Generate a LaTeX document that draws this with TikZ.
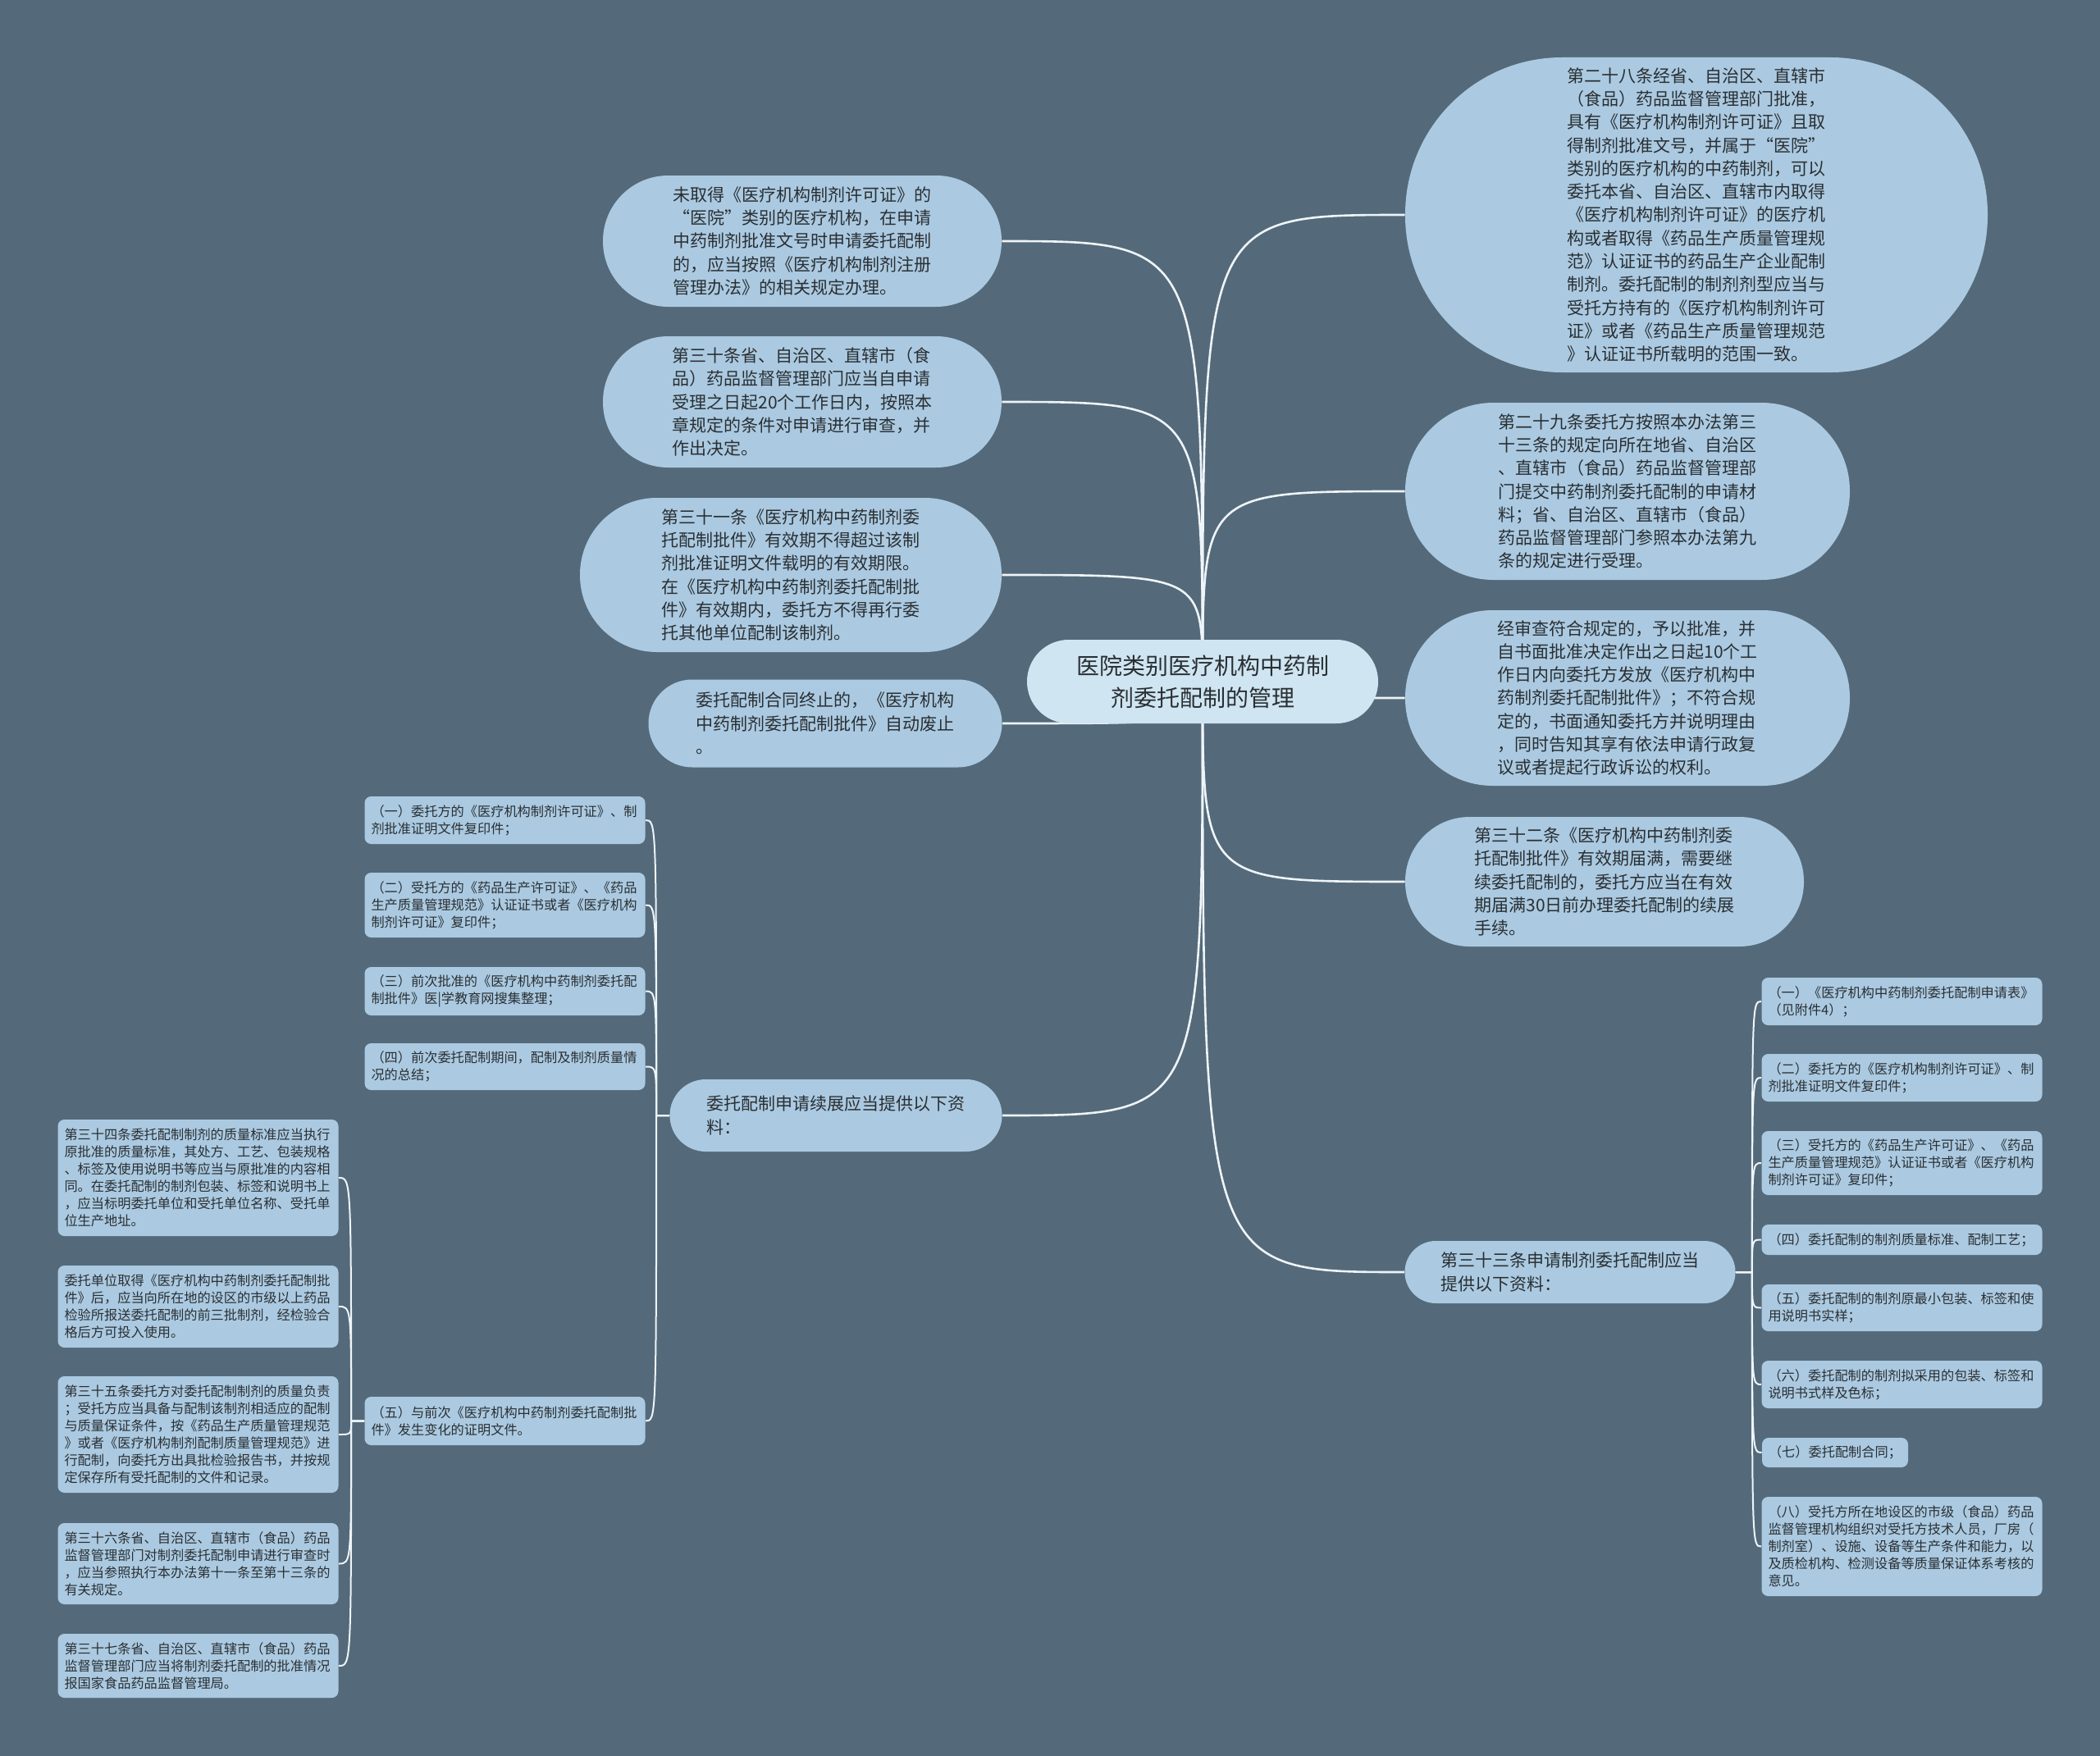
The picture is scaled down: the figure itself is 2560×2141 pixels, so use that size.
\documentclass[tikz,border=0pt]{standalone}
\usepackage{fontspec}
\setmainfont{Noto Sans CJK SC}
\definecolor{mapbg}{HTML}{546A7A}
\definecolor{mapnode}{HTML}{ABCAE1}
\definecolor{maproot}{HTML}{CFE5F1}
\definecolor{mapline}{HTML}{EEF4F8}
\definecolor{maptext}{HTML}{2A2F33}
\pgfdeclarelayer{bg}
\pgfdeclarelayer{links}
\pgfsetlayers{bg,links,main}
\tikzset{
  bubble/.style 2 args={fill=mapnode, text=maptext, align=left,
    font=\fontsize{10.5}{14.15}\selectfont,
    minimum width=#1*0.5pt, minimum height=#2*0.5pt, rounded corners=#2*0.249pt},
  leaf/.style={fill=mapnode, text=maptext, align=left, text width=163pt,
    inner xsep=4pt, inner ysep=2pt, font=\fontsize{8.1}{10.5}\selectfont,
    rounded corners=4pt, minimum height=#1*0.5pt},
  link/.style={draw=mapline, line width=1.3pt},
  sublink/.style={draw=mapline, line width=1pt},
}

\begin{document}
\begin{tikzpicture}[x=0.5pt, y=-0.5pt]
  \begin{pgfonlayer}{bg}
    \fill[mapbg] (0,0) rectangle (2560,2141);
  \end{pgfonlayer}

  % centre
  \node[bubble={428}{102}, fill=maproot, align=center, font=\fontsize{14}{19.5}\selectfont]
    (root) at (1466,831) {医院类别医疗机构中药制\\剂委托配制的管理};

  % left side
  \node[bubble={486}{160}] (L1) at (978,294)
    {未取得《医疗机构制剂许可证》的\\“医院”类别的医疗机构，在申请\\中药制剂批准文号时申请委托配制\\的，应当按照《医疗机构制剂注册\\管理办法》的相关规定办理。};
  \node[bubble={486}{160}] (L2) at (978,490)
    {第三十条省、自治区、直辖市（食\\品）药品监督管理部门应当自申请\\受理之日起20个工作日内，按照本\\章规定的条件对申请进行审查，并\\作出决定。};
  \node[bubble={514}{188}] (L3) at (964,701)
    {第三十一条《医疗机构中药制剂委\\托配制批件》有效期不得超过该制\\剂批准证明文件载明的有效期限。\\在《医疗机构中药制剂委托配制批\\件》有效期内，委托方不得再行委\\托其他单位配制该制剂。};
  \node[bubble={431}{107}] (L4) at (1006,882)
    {委托配制合同终止的，《医疗机构\\中药制剂委托配制批件》自动废止\\。};
  \node[bubble={405}{88}] (L5) at (1019,1360)
    {委托配制申请续展应当提供以下资\\料：};

  % right side
  \node[bubble={710}{384}] (R1) at (2068,262)
    {第二十八条经省、自治区、直辖市\\（食品）药品监督管理部门批准，\\具有《医疗机构制剂许可证》且取\\得制剂批准文号，并属于“医院”\\类别的医疗机构的中药制剂，可以\\委托本省、自治区、直辖市内取得\\《医疗机构制剂许可证》的医疗机\\构或者取得《药品生产质量管理规\\范》认证证书的药品生产企业配制\\制剂。委托配制的制剂剂型应当与\\受托方持有的《医疗机构制剂许可\\证》或者《药品生产质量管理规范\\》认证证书所载明的范围一致。};
  \node[bubble={542}{216}] (R2) at (1984,599)
    {第二十九条委托方按照本办法第三\\十三条的规定向所在地省、自治区\\、直辖市（食品）药品监督管理部\\门提交中药制剂委托配制的申请材\\料；省、自治区、直辖市（食品）\\药品监督管理部门参照本办法第九\\条的规定进行受理。};
  \node[bubble={542}{214}] (R3) at (1984,851)
    {经审查符合规定的，予以批准，并\\自书面批准决定作出之日起10个工\\作日内向委托方发放《医疗机构中\\药制剂委托配制批件》；不符合规\\定的，书面通知委托方并说明理由\\，同时告知其享有依法申请行政复\\议或者提起行政诉讼的权利。};
  \node[bubble={486}{158}] (R4) at (1956,1075)
    {第三十二条《医疗机构中药制剂委\\托配制批件》有效期届满，需要继\\续委托配制的，委托方应当在有效\\期届满30日前办理委托配制的续展\\手续。};
  \node[bubble={403}{76}] (R5) at (1914,1551)
    {第三十三条申请制剂委托配制应当\\提供以下资料：};

  % renewal list
  \node[leaf=58] (a1) at (615.5,1000) {（一）委托方的《医疗机构制剂许可证》、制\\剂批准证明文件复印件；};
  \node[leaf=79] (a2) at (615.5,1103.5) {（二）受托方的《药品生产许可证》、《药品\\生产质量管理规范》认证证书或者《医疗机构\\制剂许可证》复印件；};
  \node[leaf=59] (a3) at (615.5,1208.5) {（三）前次批准的《医疗机构中药制剂委托配\\制批件》医|学教育网搜集整理；};
  \node[leaf=57] (a4) at (615.5,1300.5) {（四）前次委托配制期间，配制及制剂质量情\\况的总结；};
  \node[leaf=59] (a5) at (615.5,1732.5) {（五）与前次《医疗机构中药制剂委托配制批\\件》发生变化的证明文件。};

  \node[leaf=142] (b1) at (241.5,1436) {第三十四条委托配制制剂的质量标准应当执行\\原批准的质量标准，其处方、工艺、包装规格\\、标签及使用说明书等应当与原批准的内容相\\同。在委托配制的制剂包装、标签和说明书上\\，应当标明委托单位和受托单位名称、受托单\\位生产地址。};
  \node[leaf=100] (b2) at (241.5,1593) {委托单位取得《医疗机构中药制剂委托配制批\\件》后，应当向所在地的设区的市级以上药品\\检验所报送委托配制的前三批制剂，经检验合\\格后方可投入使用。};
  \node[leaf=142] (b3) at (241.5,1749) {第三十五条委托方对委托配制制剂的质量负责\\；受托方应当具备与配制该制剂相适应的配制\\与质量保证条件，按《药品生产质量管理规范\\》或者《医疗机构制剂配制质量管理规范》进\\行配制，向委托方出具批检验报告书，并按规\\定保存所有受托配制的文件和记录。};
  \node[leaf=99] (b4) at (241.5,1906.5) {第三十六条省、自治区、直辖市（食品）药品\\监督管理部门对制剂委托配制申请进行审查时\\，应当参照执行本办法第十一条至第十三条的\\有关规定。};
  \node[leaf=78] (b5) at (241.5,2031) {第三十七条省、自治区、直辖市（食品）药品\\监督管理部门应当将制剂委托配制的批准情况\\报国家食品药品监督管理局。};

  % application list
  \node[leaf=58] (c1) at (2318.5,1221) {（一）《医疗机构中药制剂委托配制申请表》\\（见附件4）；};
  \node[leaf=58] (c2) at (2318.5,1314) {（二）委托方的《医疗机构制剂许可证》、制\\剂批准证明文件复印件；};
  \node[leaf=78] (c3) at (2318.5,1418) {（三）受托方的《药品生产许可证》、《药品\\生产质量管理规范》认证证书或者《医疗机构\\制剂许可证》复印件；};
  \node[leaf=37] (c4) at (2318.5,1511.5) {（四）委托配制的制剂质量标准、配制工艺；};
  \node[leaf=57] (c5) at (2318.5,1594.5) {（五）委托配制的制剂原最小包装、标签和使\\用说明书实样；};
  \node[leaf=58] (c6) at (2318.5,1688) {（六）委托配制的制剂拟采用的包装、标签和\\说明书式样及色标；};
  \node[leaf=36, text width=81pt] (c7) at (2237,1771) {（七）委托配制合同；};
  \node[leaf=121] (c8) at (2318.5,1885.5) {（八）受托方所在地设区的市级（食品）药品\\监督管理机构组织对受托方技术人员，厂房（\\制剂室）、设施、设备等生产条件和能力，以\\及质检机构、检测设备等质量保证体系考核的\\意见。};

  \begin{pgfonlayer}{links}
    \foreach \n in {L1,L2,L3,L4,L5}
      \draw[link] (root.center) .. controls (root.center |- \n.east) .. (\n.east);
    \foreach \n in {R1,R2,R3,R4,R5}
      \draw[link] (root.center) .. controls (root.center |- \n.west) .. (\n.west);
    \coordinate (jl) at ([xshift=-8pt]L5.west);
    \coordinate (jb) at ([xshift=-8pt]a5.west);
    \coordinate (jr) at ([xshift=10pt]R5.east);
    \foreach \n in {a1,a2,a3,a4,a5}
      \draw[sublink] (L5.west) -- (jl) .. controls (jl |- \n.east) .. (\n.east);
    \foreach \n in {b1,b2,b3,b4,b5}
      \draw[sublink] (a5.west) -- (jb) .. controls (jb |- \n.east) .. (\n.east);
    \foreach \n in {c1,c2,c3,c4,c5,c6,c7,c8}
      \draw[sublink] (R5.east) -- (jr) .. controls (jr |- \n.west) .. (\n.west);
  \end{pgfonlayer}
\end{tikzpicture}
\end{document}
